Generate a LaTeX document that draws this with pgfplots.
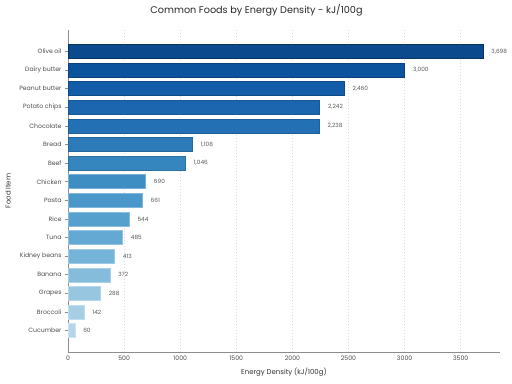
\documentclass[border=0pt]{standalone}
\usepackage{fontspec}
\setmainfont{Poppins}
\usepackage{pgfplots}
\pgfplotsset{compat=1.18}
\definecolor{c1}{HTML}{0B4A8C}
\definecolor{c2}{HTML}{0C539E}
\definecolor{c3}{HTML}{135DA8}
\definecolor{c4}{HTML}{1B66AF}
\definecolor{c5}{HTML}{2370B4}
\definecolor{c6}{HTML}{2D7AB9}
\definecolor{c7}{HTML}{3585BF}
\definecolor{c8}{HTML}{3E8EC4}
\definecolor{c9}{HTML}{4A98C9}
\definecolor{c10}{HTML}{56A0CE}
\definecolor{c11}{HTML}{64A9D3}
\definecolor{c12}{HTML}{75B3D8}
\definecolor{c13}{HTML}{85BCDC}
\definecolor{c14}{HTML}{96C6E0}
\definecolor{c15}{HTML}{A6CFE5}
\definecolor{c16}{HTML}{B5D6EA}
\begin{document}
\begin{tikzpicture}
\useasboundingbox (-68bp,-32bp) rectangle (444bp,352bp);
\begin{axis}[
  at={(0,0)}, anchor=south west,
  scale only axis, width=432bp, height=322bp,
  xmin=0, xmax=3850, ymin=-1.15, ymax=16.15,
  ytick={0,...,15},
  yticklabels={Cucumber,Broccoli,Grapes,Banana,Kidney beans,Tuna,Rice,Pasta,Chicken,Beef,Bread,Chocolate,Potato chips,Peanut butter,Dairy butter,Olive oil},
  xtick={0,500,...,3500},
  axis lines*=left,
  axis line style={black!45, line width=0.8bp},
  x axis line style={-}, y axis line style={-},
  xtick style={draw=none},
  ytick style={black!45, line width=0.6bp},
  tick align=outside, major tick length=3bp,
  xmajorgrids, grid style={black!15, line width=0.5bp, dash pattern=on 1.5bp off 1.5bp},
  /pgf/number format/assume math mode=true,
  xticklabel style={/pgf/number format/1000 sep={}, yshift=2.5bp},
  tick label style={font=\fontsize{6.2}{7}\selectfont, text=black!70},
  xbar, bar width=14bp, bar shift=0pt,
  point meta=x,
  nodes near coords={\pgfmathprintnumber[1000 sep={,}]{\pgfplotspointmeta}},
  nodes near coords style={font=\fontsize{5.8}{6}\selectfont, text=black!65, anchor=west, xshift=5bp},
  xlabel={Energy Density (kJ/100g)},
  ylabel={Food Item},
  label style={font=\fontsize{7}{8}\selectfont, text=black!80},
  xlabel style={at={(0.5,0)}, anchor=center, yshift=-20bp},
  ylabel style={at={(0,0.5)}, anchor=center, yshift=60bp},
  title={Common Foods by Energy Density - kJ/100g},
  title style={font=\fontsize{9.7}{11}\selectfont, text=black!85, at={(0.5,1)}, anchor=center, xshift=-27.5bp, yshift=14bp},
]
\addplot[fill=c1, draw=c1!70!black] coordinates {(3698,15)};
\addplot[fill=c2, draw=c2!80!black] coordinates {(3000,14)};
\addplot[fill=c3, draw=c3!80!black] coordinates {(2460,13)};
\addplot[fill=c4, draw=c4!85!black] coordinates {(2242,12)};
\addplot[fill=c5, draw=c5!85!black] coordinates {(2238,11)};
\addplot[fill=c6, draw=c6!85!black] coordinates {(1108,10)};
\addplot[fill=c7, draw=c7!85!black] coordinates {(1046,9)};
\addplot[fill=c8, draw=c8!70!white] coordinates {(690,8)};
\addplot[fill=c9, draw=c9!70!white] coordinates {(661,7)};
\addplot[fill=c10, draw=c10!70!white] coordinates {(544,6)};
\addplot[fill=c11, draw=c11!70!white] coordinates {(485,5)};
\addplot[fill=c12, draw=c12!70!white] coordinates {(413,4)};
\addplot[fill=c13, draw=c13!70!white] coordinates {(372,3)};
\addplot[fill=c14, draw=c14!70!white] coordinates {(288,2)};
\addplot[fill=c15, draw=c15!70!white] coordinates {(142,1)};
\addplot[fill=c16, draw=c16!70!white] coordinates {(60,0)};
\end{axis}
\end{tikzpicture}
\end{document}
